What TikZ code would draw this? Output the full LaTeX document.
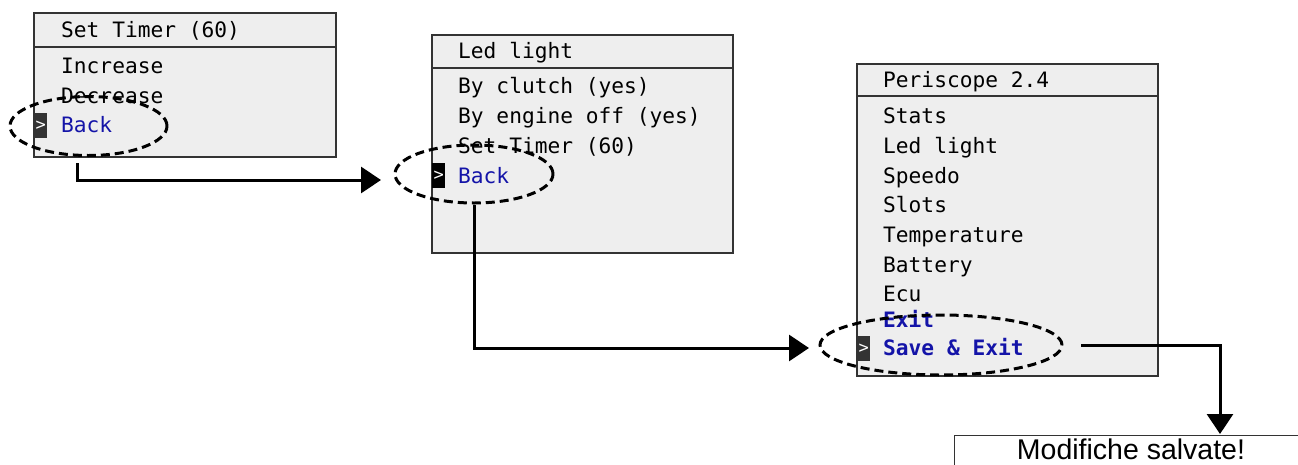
\documentclass[tikz,border=0pt]{standalone}
\usepackage{fontspec}
\setmainfont{Liberation Sans}
\newfontfamily\mono{DejaVu Sans Mono}
\usetikzlibrary{arrows.meta,shapes.geometric}
\definecolor{boxgray}{HTML}{EEEEEE}
\definecolor{edge}{HTML}{333333}
\definecolor{menublue}{HTML}{1414A8}
\tikzset{
  screen/.style={draw=edge,line width=1.2pt,fill=boxgray},
  sep/.style={draw=edge,line width=2pt},
  item/.style={anchor=base west,inner sep=0pt,font=\mono\fontsize{21.2}{24}\selectfont},
  sel/.style={item,text=menublue},
  selb/.style={item,text=menublue,font=\mono\bfseries\fontsize{21.2}{24}\selectfont},
  cursor/.style={fill=#1,text=white,inner sep=0pt,minimum width=13pt,minimum height=25pt,font=\mono\fontsize{17}{20}\selectfont},
  ring/.style={ellipse,draw=black,line width=3pt,dash pattern=on 9pt off 5pt,inner sep=0pt},
  flow/.style={draw=black,line width=3pt,-{Triangle[length=20pt,width=26pt]}}
}
\begin{document}
\begin{tikzpicture}[x=1pt,y=-1pt]
\useasboundingbox (0,0) rectangle (1298,464);
% final box
\begin{scope}
\clip (0,0) rectangle (1298,464);
\node[draw=edge,line width=1.2pt,fill=white,anchor=north west,minimum width=344pt,minimum height=40pt,inner sep=0pt] (saved) at (954,435) {};
\end{scope}
\node[anchor=base,inner sep=0pt,font=\fontsize{28.5}{34}\selectfont] (savedtext) at (1131,459) {Modifiche salvate!};

% screen 1
\path[screen] (34,13) rectangle (336,157);
\draw[sep] (34,46.5) -- (336,46.5);
\node[item] (t1h) at (61,37) {Set Timer (60)};
\node[item] (t1a) at (61,73) {Increase};
\node[item] (t1b) at (61,103) {Decrease};
\node[cursor=edge,anchor=north west] (c1) at (34,113) {>};
\node[sel] (t1c) at (61,132) {Back};
\node[ring,minimum width=157pt,minimum height=59pt] (e1) at (88.5,126) {};

% screen 2
\path[screen] (432,35) rectangle (733,253);
\draw[sep] (432,68) -- (733,68);
\node[item] (t2h) at (458,58) {Led light};
\node[item] (t2a) at (458,93) {By clutch (yes)};
\node[item] (t2b) at (458,123) {By engine off (yes)};
\node[item] (t2c) at (458,153) {Set Timer (60)};
\node[cursor=black,anchor=north west] (c2) at (432,163) {>};
\node[sel] (t2d) at (458,183) {Back};
\node[ring,minimum width=158pt,minimum height=58pt] (e2) at (474,174) {};

% screen 3
\path[screen] (857,64) rectangle (1158,376);
\draw[sep] (857,96) -- (1158,96);
\node[item] (t3h) at (883,87) {Periscope 2.4};
\node[item] (t3a) at (883,123) {Stats};
\node[item] (t3b) at (883,153) {Led light};
\node[item] (t3c) at (883,183) {Speedo};
\node[item] (t3d) at (883,212) {Slots};
\node[item] (t3e) at (883,242) {Temperature};
\node[item] (t3f) at (883,272) {Battery};
\node[item] (t3g) at (883,301) {Ecu};
\node[selb] (t3h2) at (883,327) {Exit};
\node[cursor=edge,anchor=north west] (c3) at (857,336) {>};
\node[selb] (t3i) at (883,355) {Save \& Exit};
\node[ring,minimum width=242pt,minimum height=60pt] (e3) at (941,345) {};

% connectors
\coordinate (s1) at (77,163);
\coordinate (a1) at (381,180);
\draw[flow] (s1) |- (a1);
\coordinate (s2) at (e2.south);
\coordinate (a2) at (809,348);
\draw[flow] (s2) |- (a2);
\coordinate (s3) at (1081,345);
\coordinate (a3) at (1220,434);
\draw[flow] (s3) -| (a3);
\end{tikzpicture}
\end{document}
